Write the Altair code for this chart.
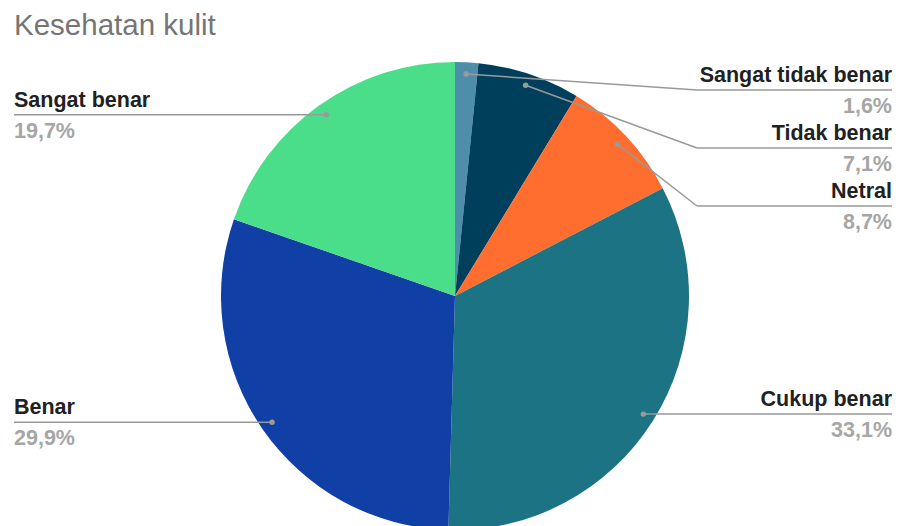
import math
import altair as alt
import pandas as pd

# ---- data ----
title_text = "Kesehatan kulit"
categories = ["Sangat tidak benar", "Tidak benar", "Netral", "Cukup benar", "Benar", "Sangat benar"]
values = [1.6, 7.1, 8.7, 33.1, 29.9, 19.7]
colors = ["#4f8eab", "#003f5c", "#ff6e2f", "#1b7383", "#103fa6", "#4ade8a"]

# ---- layout (chart-space pixels) ----
W, H = 885, 518
CX, CY, R = 447, 288, 234
R_DOT = 0.95 * R
RIGHT_X, LEFT_X = 884, 6
ELBOW_X = 689
TOP_MIN = 82
GAP = 58
FONT = "Liberation Sans"

df = pd.DataFrame({"cat": categories, "value": values, "idx": range(len(values))})
total = df["value"].sum()
cum = df["value"].cumsum() - df["value"] / 2
ang = 2 * math.pi * cum / total
df["dx"] = CX + R_DOT * ang.apply(math.sin)
df["dy"] = CY - R_DOT * ang.apply(math.cos)
df["side"] = ["right" if math.sin(a) > 0 else "left" for a in ang]
df["pct"] = [f"{v:.1f}".replace(".", ",") + "%" for v in values]

# collision avoidance for label rows
df["ly"] = df["dy"]
for side in ["right", "left"]:
    sub = df[df["side"] == side].sort_values("dy")
    prev = -1e9
    for i in sub.index:
        y = max(df.at[i, "dy"], prev + GAP, TOP_MIN)
        df.at[i, "ly"] = y
        prev = y
df["ex"] = [
    (ELBOW_X if (s == "right" and ly > dy + 0.5) else dx)
    for s, ly, dy, dx in zip(df["side"], df["ly"], df["dy"], df["dx"])
]
df["lx"] = [RIGHT_X if s == "right" else LEFT_X for s in df["side"]]

xs = alt.Scale(domain=[0, W], range=[0, W])
ys = alt.Scale(domain=[0, H], range=[0, H])
X = lambda f: alt.X(f, scale=xs, axis=None)
Y = lambda f: alt.Y(f, scale=ys, axis=None)

base = alt.Chart(df)

pie = base.mark_arc(radius=R, stroke=None).encode(
    theta=alt.Theta("value:Q", stack=True),
    order=alt.Order("idx:Q"),
    color=alt.Color("cat:N", scale=alt.Scale(domain=categories, range=colors), legend=None),
    x=alt.value(CX),
    y=alt.value(CY),
)

line_color = "#999999"
seg1 = base.mark_rule(color=line_color, strokeWidth=1.5).encode(
    x=X("dx:Q"), y=Y("dy:Q"), x2="ex:Q", y2="ly:Q"
)
seg2 = base.mark_rule(color=line_color, strokeWidth=1.5).encode(
    x=X("ex:Q"), y=Y("ly:Q"), x2="lx:Q", y2="ly:Q"
)
dots = base.mark_circle(size=30, color="#9a9a9a", opacity=1).encode(
    x=X("dx:Q"), y=Y("dy:Q")
)

def labels(side, align):
    b = base.transform_filter(alt.datum.side == side)
    name = b.mark_text(align=align, baseline="alphabetic", dy=-8, font=FONT,
                       fontSize=21.5, fontWeight="bold", color="#212121").encode(
        x=X("lx:Q"), y=Y("ly:Q"), text="cat:N")
    pct = b.mark_text(align=align, baseline="alphabetic", dy=23, font=FONT,
                      fontSize=21.5, fontWeight="bold", color="#a6a6a6").encode(
        x=X("lx:Q"), y=Y("ly:Q"), text="pct:N")
    return name + pct

title = alt.Chart(pd.DataFrame({"t": [title_text]})).mark_text(
    align="left", baseline="alphabetic", font=FONT, fontSize=29.5, color="#757575"
).encode(text="t:N", x=alt.value(6), y=alt.value(27))

chart = alt.layer(pie, seg1, seg2, dots, labels("right", "right"), labels("left", "left"), title).properties(
    width=W, height=H, padding=0, autosize="none"
).configure_view(stroke=None)

chart.save("out.html", embed_options={"renderer": "svg", "actions": False})
